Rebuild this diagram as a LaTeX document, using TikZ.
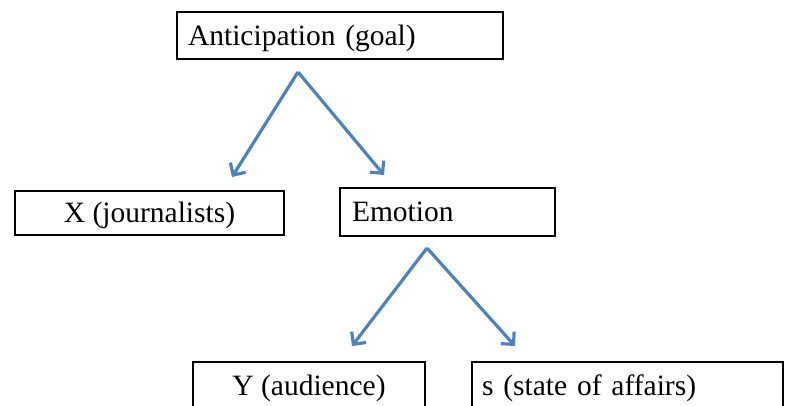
\documentclass[tikz,border=0pt]{standalone}
\usepackage{fontspec}
\setmainfont{Liberation Serif}
\usetikzlibrary{arrows.meta}
\definecolor{arrowblue}{RGB}{79,129,189}
\begin{document}
\begin{tikzpicture}[x=1pt,y=1pt,
  box/.style={draw=black,line width=1.1pt,inner sep=0pt,minimum height=#1,
    text height=19.5pt,text depth=0pt,
    font=\fontsize{29.5}{34}\selectfont},
  link/.style={draw=arrowblue,line width=3.2pt,
    -{Straight Barb[length=9pt,width=18pt,line width=3.2pt]}}]
\useasboundingbox (0,0) rectangle (786,405);
% boxes
\node[box=47pt,minimum width=326pt,text width=304pt,align=left] (top) at (340,369.5) {Anticipation (goal)};
\node[box=44pt,minimum width=269pt] (xj) at (149.5,192) {X (journalists)};
\node[box=48pt,minimum width=215pt,text width=191pt,align=left] (emo) at (447.5,193) {Emotion};
\node[box=48pt,minimum width=232pt] (ya) at (309,19) {Y (audience)};
\node[box=48pt,minimum width=311pt,text width=291pt,align=left] (sa) at (627.5,19) {s (state of affairs)};
% arrow coordinates
\coordinate (a1) at (298,333);
\coordinate (t1) at (232,228);
\coordinate (t2) at (384,230);
\coordinate (a2) at (427,157);
\coordinate (t3) at (352,59);
\coordinate (t4) at (515,59);
\draw[link] (a1) -- (t1);
\draw[link] (a1) -- (t2);
\draw[link] (a2) -- (t3);
\draw[link] (a2) -- (t4);
\end{tikzpicture}
\end{document}
